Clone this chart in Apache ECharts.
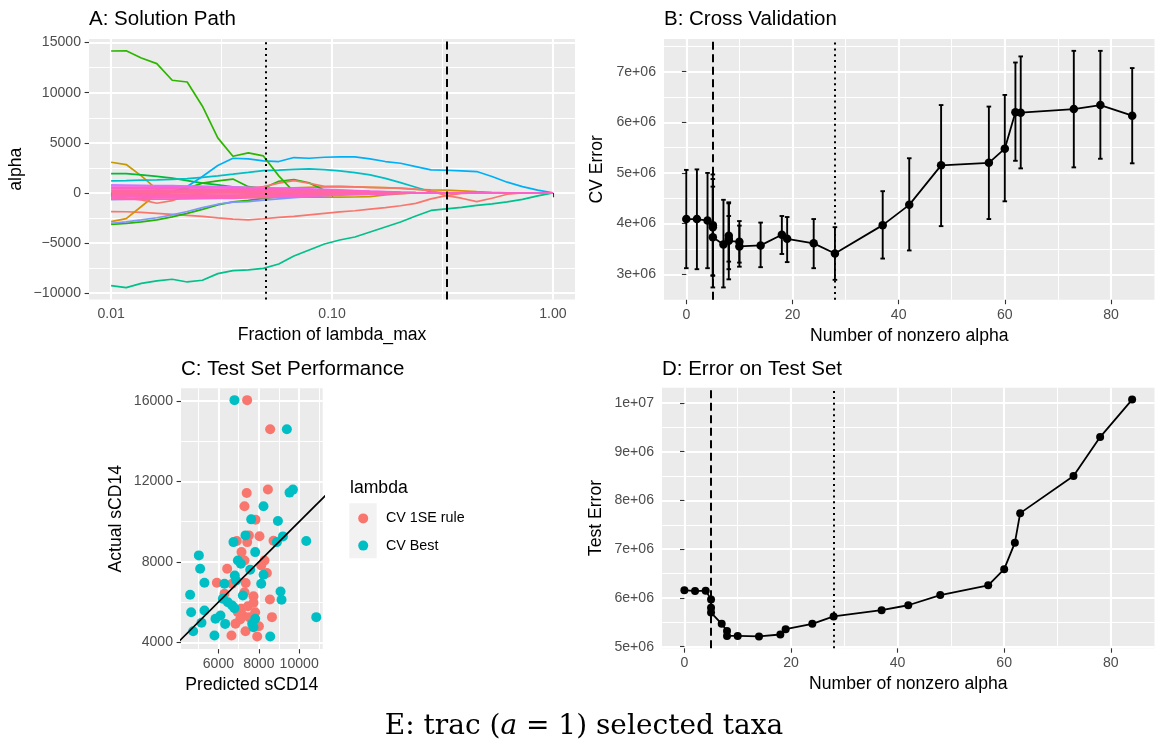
<!DOCTYPE html>
<html>
<head>
<meta charset="utf-8">
<script src="https://cdn.jsdelivr.net/npm/echarts@6/dist/echarts.min.js"></script>
<style>html,body{margin:0;padding:0;background:#ffffff}#chart{width:1155px;height:748px}</style>
</head>
<body>
<div id="chart"></div>
<script>
// ---------------- Panel A: solution path ----------------
const lambdaFrac = [0.0100, 0.0117, 0.0137, 0.0161, 0.0189, 0.0221, 0.0259, 0.0304, 0.0356, 0.0418,
  0.0489, 0.0574, 0.0672, 0.0788, 0.0924, 0.1083, 0.1269, 0.1487, 0.1743, 0.2043,
  0.2395, 0.2807, 0.3290, 0.3857, 0.4520, 0.5298, 0.6210, 0.7279, 0.8532, 1.0000];
const alphaGreenBig = [14160, 14180, 13470, 12900, 11240, 11070, 8650, 5490, 3660, 3990, 3690, 1700, 100, 0, 0, 0, 0, 0, 0, 0, 0, 0, 0, 0, 0, 0, 0, 0, 0, 0];
const alphaBlue = [-650, -620, -530, -370, 130, 630, 1630, 2730, 3460, 3400, 3200, 3130, 3530, 3460, 3560, 3600, 3600, 3400, 3130, 2960, 2630, 2300, 2260, 2200, 2130, 1630, 1070, 630, 270, 0];
const alphaCyan = [1200, 1230, 1270, 1300, 1350, 1420, 1550, 1700, 1870, 2050, 2230, 2280, 2350, 2400, 2330, 2200, 2030, 1800, 1450, 1020, 560, 100, 0, 0, 0, 0, 0, 0, 0, 0];
const alphaSeaGreen = [-9260, -9460, -9030, -8790, -8620, -8890, -8720, -8060, -7760, -7690, -7530, -7100, -6300, -5700, -5100, -4700, -4400, -3900, -3400, -2900, -2300, -1750, -1600, -1450, -1250, -1100, -900, -650, -300, 0];
const alphaSalmonLow = [-1860, -1880, -1950, -2050, -2150, -2250, -2350, -2500, -2620, -2700, -2580, -2450, -2350, -2200, -2050, -1900, -1780, -1620, -1470, -1280, -1050, -600, -280, -50, 0, 0, 0, 0, 0, 0];
const alphaSalmonDip = [-370, -530, -700, -1030, -770, -200, -30, 100, 250, 450, 630, 970, 1230, 960, 650, 650, 600, 550, 500, 470, 370, 200, -270, -530, -870, -530, -130, 0, 0, 0];
const alphaGoldHigh = [3060, 2830, 1700, 350, -250, -380, -420, -430, -430, -430, -430, -430, -420, -420, -420, -420, -410, -380, -200, -70, 0, 0, 0, 0, 0, 0, 0, 0, 0, 0];
const alphaGoldLow = [-2860, -2560, -1360, -100, 200, 300, 300, 300, 320, 350, 400, 450, 500, 550, 600, 620, 600, 560, 520, 450, 350, 300, 270, 200, 120, 50, 0, 0, 0, 0];
const alphaGreenHigh = [1930, 1930, 1800, 1650, 1470, 1230, 970, 800, 600, 500, 450, 400, 300, 200, 100, 0, 0, 0, 0, 0, 0, 0, 0, 0, 0, 0, 0, 0, 0, 0];
const alphaGreenLow = [-3150, -3050, -2900, -2700, -2400, -2050, -1650, -1200, -900, -750, -550, -400, -250, -150, -50, 0, 0, 0, 0, 0, 0, 0, 0, 0, 0, 0, 0, 0, 0, 0];
const alphaGreenBump = [0, 0, 0, 0, 150, 470, 970, 1200, 1380, 620, 450, 1160, 1330, 1000, 270, 0, 0, 0, 0, 0, 0, 0, 0, 0, 0, 0, 0, 0, 0, 0];
const alphaPeriwinkle = [-3030, -2900, -2700, -2480, -2200, -1860, -1470, -1130, -930, -870, -730, -600, -480, -380, -270, -170, -80, 0, 0, 0, 0, 0, 0, 0, 0, 0, 0, 0, 0, 0];
const alphaViolet = [800, 780, 760, 740, 720, 690, 660, 620, 580, 540, 480, 420, 360, 300, 230, 150, 80, 30, 0, 0, 0, 0, 0, 0, 0, 0, 0, 0, 0, 0];
const alphaBand1 = [700, 695, 690, 680, 665, 650, 630, 610, 585, 560, 530, 490, 450, 400, 350, 300, 240, 180, 130, 70, 30, 0, 0, 0, 0, 0, 0, 0, 0, 0];
const alphaBand2 = [560, 556, 552, 544, 532, 520, 504, 488, 468, 448, 424, 392, 360, 320, 280, 240, 192, 144, 104, 56, 24, 0, 0, 0, 0, 0, 0, 0, 0, 0];
const alphaBand3 = [420, 417, 414, 408, 399, 390, 378, 366, 351, 336, 318, 294, 270, 240, 210, 180, 144, 108, 78, 42, 18, 0, 0, 0, 0, 0, 0, 0, 0, 0];
const alphaBand4 = [280, 278, 276, 272, 266, 260, 252, 244, 234, 224, 212, 196, 180, 160, 140, 120, 96, 72, 52, 28, 12, 0, 0, 0, 0, 0, 0, 0, 0, 0];
const alphaBand5 = [140, 139, 138, 136, 133, 130, 126, 122, 117, 112, 106, 98, 90, 80, 70, 60, 48, 36, 26, 14, 6, 0, 0, 0, 0, 0, 0, 0, 0, 0];
const alphaBand6 = [0, 0, 0, 0, 0, 0, 0, 0, 0, 0, 0, 0, 0, 0, 0, 0, 0, 0, 0, 0, 0, 0, 0, 0, 0, 0, 0, 0, 0, 0];
const alphaBand7 = [-130, -129, -128, -126, -124, -120, -116, -112, -108, -101, -94, -86, -76, -66, -55, -44, -36, -28, -20, -10, 0, 0, 0, 0, 0, 0, 0, 0, 0, 0];
const alphaBand8 = [-260, -258, -256, -252, -248, -240, -232, -224, -216, -202, -188, -172, -152, -132, -110, -88, -72, -56, -40, -20, 0, 0, 0, 0, 0, 0, 0, 0, 0, 0];
const alphaBand9 = [-390, -387, -384, -378, -372, -360, -348, -336, -324, -303, -282, -258, -228, -198, -165, -132, -108, -84, -60, -30, 0, 0, 0, 0, 0, 0, 0, 0, 0, 0];
const alphaBand10 = [-520, -516, -512, -504, -496, -480, -464, -448, -432, -404, -376, -344, -304, -264, -220, -176, -144, -112, -80, -40, 0, 0, 0, 0, 0, 0, 0, 0, 0, 0];
const alphaBand11 = [-650, -645, -640, -630, -620, -600, -580, -560, -540, -505, -470, -430, -380, -330, -275, -220, -180, -140, -100, -50, 0, 0, 0, 0, 0, 0, 0, 0, 0, 0];
const fracRange = [0.00794, 1.259];
const fracTicks = [0.01, 0.1, 1];
const fracTickLabels = ['0.01', '0.10', '1.00'];
const fracMinorTicks = [0.0316, 0.316];
const alphaRange = [-10640, 15360];
const alphaTicks = [-10000, -5000, 0, 5000, 10000, 15000];
const alphaTickLabels = ['\u221210000', '\u22125000', '0', '5000', '10000', '15000'];
const alphaMinorTicks = [-7500, -2500, 2500, 7500, 12500];
const lambdaSelected = [0.0489, 0.329]; // CV best (dotted), CV 1SE rule (dashed)

// ---------------- Panel B: cross validation ----------------
const cvNonzero = [0, 2, 4, 5, 5, 5, 7, 8, 8, 8, 10, 10, 14, 18, 19, 24, 28, 37, 42, 48, 57, 60, 62, 63, 73, 78, 84];
const cvMean  = [4.09e6, 4.09e6, 4.06e6, 3.97e6, 3.93e6, 3.73e6, 3.59e6, 3.76e6, 3.70e6, 3.66e6, 3.64e6, 3.55e6, 3.57e6, 3.78e6, 3.70e6, 3.61e6, 3.41e6, 3.97e6, 4.37e6, 5.15e6, 5.20e6, 5.48e6, 6.20e6, 6.19e6, 6.26e6, 6.34e6, 6.13e6];
const cvLower = [3.12e6, 3.10e6, 3.12e6, 2.97e6, 2.98e6, 2.74e6, 2.74e6, 3.10e6, 3.25e6, 2.90e6, 3.23e6, 3.15e6, 3.14e6, 3.40e6, 3.24e6, 3.12e6, 2.89e6, 3.31e6, 3.47e6, 3.95e6, 4.09e6, 4.44e6, 5.24e6, 5.09e6, 5.11e6, 5.28e6, 5.19e6];
const cvUpper = [5.06e6, 5.07e6, 5.00e6, 4.97e6, 4.88e6, 4.73e6, 4.47e6, 4.42e6, 4.15e6, 4.40e6, 4.05e6, 3.96e6, 4.02e6, 4.15e6, 4.13e6, 4.09e6, 3.93e6, 4.64e6, 5.29e6, 6.34e6, 6.31e6, 6.54e6, 7.18e6, 7.30e6, 7.41e6, 7.41e6, 7.07e6];
const nonzeroRange = [-4.2, 88.2];
const nonzeroTicks = [0, 20, 40, 60, 80];
const nonzeroTickLabels = ['0', '20', '40', '60', '80'];
const nonzeroMinorTicks = [10, 30, 50, 70];
const cvRange = [2.496e6, 7.644e6];
const cvTicks = [3e6, 4e6, 5e6, 6e6, 7e6];
const cvTickLabels = ['3e+06', '4e+06', '5e+06', '6e+06', '7e+06'];
const cvMinorTicks = [3.5e6, 4.5e6, 5.5e6, 6.5e6, 7.5e6];
const nonzeroSelected = [28, 5]; // CV best (dotted), CV 1SE rule (dashed)

// ---------------- Panel C: test set performance ----------------
const lambdaLevels = ['CV 1SE rule', 'CV Best'];
const oneSEPoints = [[7421, 16050], [8562, 14604], [8450, 11600], [7400, 11430], [7290, 10766], [7835, 10103],
  [8034, 9280], [7507, 9320], [8728, 9050], [7424, 8985], [6909, 9036], [7141, 8488], [7290, 8074], [8282, 8074],
  [8118, 7825], [6431, 7660], [8400, 7450], [5921, 6959], [6680, 6909], [7350, 6950], [7290, 6493], [7736, 6290],
  [8550, 6130], [6298, 6414], [6962, 5497], [7126, 5664], [7458, 5797], [7736, 5965], [7820, 5497], [7210, 5333],
  [7520, 5250], [7076, 5133], [6843, 4918], [8004, 4800], [7340, 4550], [7920, 4285], [6645, 4335], [8650, 5250]];
const bestPoints = [[6793, 16050], [9389, 14604], [9522, 11449], [9690, 11598], [8232, 10766], [7622, 10118],
  [8946, 10033], [7340, 9320], [9194, 9270], [10350, 9036], [8896, 8985], [6744, 8985], [7820, 8488], [5028, 8323],
  [6962, 8074], [7108, 7906], [5092, 7660], [7572, 7610], [8232, 7360], [5306, 6959], [6298, 6909], [6878, 7075],
  [6810, 7325], [7210, 6330], [8118, 6910], [9075, 6528], [9125, 6115], [4596, 6364], [6218, 6165], [6466, 5995],
  [6680, 5830], [6794, 5697], [4646, 5497], [5306, 5580], [5852, 5167], [6100, 5333], [7820, 5167], [7672, 4918],
  [7736, 4750], [8564, 4285], [5802, 4335], [5159, 4968], [4747, 4550], [10846, 5250], [6331, 4915]];
const identityLine = [[0, 0], [20000, 20000]];
const predRange = [4144, 11165];
const predTicks = [6000, 8000, 10000];
const predTickLabels = ['6000', '8000', '10000'];
const predMinorTicks = [5000, 7000, 9000, 11000];
const actualRange = [3660, 16640];
const actualTicks = [4000, 8000, 12000, 16000];
const actualTickLabels = ['4000', '8000', '12000', '16000'];
const actualMinorTicks = [6000, 10000, 14000];

// ---------------- Panel D: error on test set ----------------
const testNonzero = [0, 2, 4, 5, 5, 5, 7, 8, 8, 10, 14, 18, 19, 24, 28, 37, 42, 48, 57, 60, 62, 63, 73, 78, 84];
const testError = [6.16e6, 6.14e6, 6.15e6, 5.97e6, 5.80e6, 5.70e6, 5.47e6, 5.32e6, 5.22e6, 5.22e6, 5.21e6, 5.25e6, 5.36e6, 5.47e6, 5.62e6, 5.75e6, 5.85e6, 6.06e6, 6.26e6, 6.59e6, 7.13e6, 7.74e6, 8.50e6, 9.30e6, 10.07e6];
const testRange = [4.967e6, 10.313e6];
const testTicks = [5e6, 6e6, 7e6, 8e6, 9e6, 1e7];
const testTickLabels = ['5e+06', '6e+06', '7e+06', '8e+06', '9e+06', '1e+07'];
const testMinorTicks = [5.5e6, 6.5e6, 7.5e6, 8.5e6, 9.5e6];

// ---------------- styling helpers ----------------
const SANS = '"Liberation Sans", Arial, Helvetica, sans-serif';
function labelFor(values, labels) {
  return function (v) {
    for (let k = 0; k < values.length; k++) {
      const t = values[k];
      if (t === v || Math.abs(t - v) <= 1e-6 * Math.abs(t)) return labels[k];
    }
    return '';
  };
}
function majorAxis(dim, grid, type, range, ticks, labels, name, gap) {
  return {
    type: type, gridIndex: grid, position: dim === 'x' ? 'bottom' : 'left',
    min: range[0], max: range[1], logBase: 10,
    name: name, nameLocation: 'middle', nameGap: gap,
    nameTextStyle: { color: '#000000', fontSize: 17.6, fontFamily: SANS },
    axisLine: { show: false },
    axisTick: { show: true, length: 4.4, lineStyle: { color: '#333333', width: 1.1 }, customValues: ticks },
    axisLabel: { show: true, color: '#4D4D4D', fontSize: 14.1, fontFamily: SANS, margin: 8,
      customValues: ticks, formatter: labelFor(ticks, labels) },
    splitLine: { show: true, lineStyle: { color: '#FFFFFF', width: 2.1 } },
    minorTick: { show: false }, minorSplitLine: { show: false }
  };
}
function minorAxis(dim, grid, type, range, ticks) {
  return {
    type: type, gridIndex: grid, position: dim === 'x' ? 'top' : 'right',
    min: range[0], max: range[1], logBase: 10,
    axisLine: { show: false },
    axisTick: { show: false, customValues: ticks },
    axisLabel: { show: false, customValues: ticks },
    splitLine: { show: true, lineStyle: { color: '#FFFFFF', width: 1.05 } }
  };
}
const panelBg = { show: true, backgroundColor: '#EBEBEB', borderWidth: 0, outerBoundsMode: 'none', containLabel: false };
function vlineData(values) {
  return [
    { xAxis: values[0], lineStyle: { type: [2, 3.8], width: 2, color: '#000000' } },
    { xAxis: values[1], lineStyle: { type: [8, 4.5], width: 2, color: '#000000' } }
  ];
}
function vlines(values) {
  return { silent: true, symbol: 'none', animation: false, label: { show: false }, emphasis: { disabled: true }, data: vlineData(values) };
}

// ---------------- series ----------------
const alphaPaths = [
  [alphaSeaGreen, '#00C08B'], [alphaSalmonLow, '#F8766D'], [alphaGoldHigh, '#C49A00'], [alphaGoldLow, '#D89000'],
  [alphaGreenHigh, '#00BA38'], [alphaGreenLow, '#24B400'], [alphaPeriwinkle, '#7F96FF'], [alphaCyan, '#00BFC4'],
  [alphaBlue, '#00B0F6'], [alphaGreenBump, '#1DB700'], [alphaSalmonDip, '#F8766D'], [alphaGreenBig, '#2DB600'],
  [alphaViolet, '#C77CFF'],
  [alphaBand1, '#E76BF3'], [alphaBand2, '#FD61D1'], [alphaBand3, '#FF62BC'], [alphaBand4, '#FF65AE'],
  [alphaBand5, '#FF67A4'], [alphaBand6, '#FF6A98'], [alphaBand7, '#FF67A4'], [alphaBand8, '#FF65AE'],
  [alphaBand9, '#FF62BC'], [alphaBand10, '#FF6A98'], [alphaBand11, '#FC61C9']
];
const series = [];
alphaPaths.forEach(function (p, k) {
  const s = {
    type: 'line', xAxisIndex: 0, yAxisIndex: 0, showSymbol: false, symbol: 'none', silent: true,
    data: lambdaFrac.map(function (f, i) { return [f, p[0][i]]; }),
    lineStyle: { color: p[1], width: 1.7 }, itemStyle: { color: p[1] }, z: 2
  };
  if (k === alphaPaths.length - 1) s.markLine = vlines(lambdaSelected);
  series.push(s);
});

series.push({
  type: 'custom', xAxisIndex: 2, yAxisIndex: 2, silent: true,
  data: cvNonzero.map(function (x, i) { return [x, cvLower[i], cvUpper[i]]; }),
  encode: { x: 0, y: [1, 2] },
  renderItem: function (params, api) {
    const x = api.value(0);
    const lo = api.coord([x, api.value(1)]);
    const hi = api.coord([x, api.value(2)]);
    const w = 2.3;
    const st = { stroke: '#000000', lineWidth: 1.9 };
    return { type: 'group', children: [
      { type: 'line', shape: { x1: lo[0], y1: lo[1], x2: hi[0], y2: hi[1] }, style: st },
      { type: 'line', shape: { x1: lo[0] - w, y1: lo[1], x2: lo[0] + w, y2: lo[1] }, style: st },
      { type: 'line', shape: { x1: hi[0] - w, y1: hi[1], x2: hi[0] + w, y2: hi[1] }, style: st }
    ] };
  }
});
series.push({
  type: 'line', xAxisIndex: 2, yAxisIndex: 2, silent: true, symbol: 'circle', symbolSize: 8.5, showSymbol: true,
  data: cvNonzero.map(function (x, i) { return [x, cvMean[i]]; }),
  lineStyle: { color: '#000000', width: 1.8 }, itemStyle: { color: '#000000' },
  markLine: vlines(nonzeroSelected)
});

series.push({
  type: 'scatter', name: lambdaLevels[0], xAxisIndex: 4, yAxisIndex: 4, silent: true, symbolSize: 10,
  data: oneSEPoints, itemStyle: { color: '#F8766D', opacity: 1 }
});
series.push({
  type: 'scatter', name: lambdaLevels[1], xAxisIndex: 4, yAxisIndex: 4, silent: true, symbolSize: 10,
  data: bestPoints, itemStyle: { color: '#00BFC4', opacity: 1 }
});
series.push({
  type: 'line', xAxisIndex: 4, yAxisIndex: 4, silent: true, showSymbol: false, symbol: 'none', clip: true,
  data: identityLine, lineStyle: { color: '#000000', width: 1.7 }, z: 3
});

series.push({
  type: 'line', xAxisIndex: 6, yAxisIndex: 6, silent: true, symbol: 'circle', symbolSize: 8, showSymbol: true,
  data: testNonzero.map(function (x, i) { return [x, testError[i]]; }),
  lineStyle: { color: '#000000', width: 1.8 }, itemStyle: { color: '#000000' },
  markLine: vlines(nonzeroSelected)
});

const titleStyle = { color: '#000000', fontSize: 20.5, fontWeight: 'normal', fontFamily: SANS };
const option = {
  animation: false,
  backgroundColor: '#FFFFFF',
  title: [
    { text: 'A: Solution Path', left: 89, top: 9, padding: 0, textStyle: titleStyle },
    { text: 'B: Cross Validation', left: 664, top: 9, padding: 0, textStyle: titleStyle },
    { text: 'C: Test Set Performance', left: 181, top: 359, padding: 0, textStyle: titleStyle },
    { text: 'D: Error on Test Set', left: 662, top: 359, padding: 0, textStyle: titleStyle }
  ],
  grid: [
    Object.assign({ left: 89, top: 39, width: 486, height: 260.5 }, panelBg),
    Object.assign({ left: 664, top: 39, width: 490.5, height: 260.8 }, panelBg),
    Object.assign({ left: 181, top: 388.3, width: 141.7, height: 260.8 }, panelBg),
    Object.assign({ left: 662, top: 387.7, width: 492.5, height: 260.6 }, panelBg)
  ],
  xAxis: [
    majorAxis('x', 0, 'log', fracRange, fracTicks, fracTickLabels, 'Fraction of lambda_max', 27),
    minorAxis('x', 0, 'log', fracRange, fracMinorTicks),
    majorAxis('x', 1, 'value', nonzeroRange, nonzeroTicks, nonzeroTickLabels, 'Number of nonzero alpha', 27),
    minorAxis('x', 1, 'value', nonzeroRange, nonzeroMinorTicks),
    majorAxis('x', 2, 'value', predRange, predTicks, predTickLabels, 'Predicted sCD14', 27),
    minorAxis('x', 2, 'value', predRange, predMinorTicks),
    majorAxis('x', 3, 'value', nonzeroRange, nonzeroTicks, nonzeroTickLabels, 'Number of nonzero alpha', 27),
    minorAxis('x', 3, 'value', nonzeroRange, nonzeroMinorTicks)
  ],
  yAxis: [
    majorAxis('y', 0, 'value', alphaRange, alphaTicks, alphaTickLabels, 'alpha', 64),
    minorAxis('y', 0, 'value', alphaRange, alphaMinorTicks),
    majorAxis('y', 1, 'value', cvRange, cvTicks, cvTickLabels, 'CV Error', 58),
    minorAxis('y', 1, 'value', cvRange, cvMinorTicks),
    majorAxis('y', 2, 'value', actualRange, actualTicks, actualTickLabels, 'Actual sCD14', 56),
    minorAxis('y', 2, 'value', actualRange, actualMinorTicks),
    majorAxis('y', 3, 'value', testRange, testTicks, testTickLabels, 'Test Error', 57),
    minorAxis('y', 3, 'value', testRange, testMinorTicks)
  ],
  graphic: [
    { type: 'text', x: 350, y: 488, silent: true,
      style: { text: 'lambda', fill: '#000000', fontSize: 17.6, fontFamily: SANS, align: 'left', verticalAlign: 'middle' } },
    { type: 'rect', x: 349.3, y: 503.3, silent: true, shape: { width: 27.4, height: 55 }, style: { fill: '#F2F2F2' } },
    { type: 'circle', x: 363.2, y: 518.4, silent: true, shape: { r: 5 }, style: { fill: '#F8766D' } },
    { type: 'circle', x: 363.2, y: 545.6, silent: true, shape: { r: 5 }, style: { fill: '#00BFC4' } },
    { type: 'text', x: 386, y: 518.4, silent: true,
      style: { text: lambdaLevels[0], fill: '#000000', fontSize: 14.3, fontFamily: SANS, align: 'left', verticalAlign: 'middle' } },
    { type: 'text', x: 386, y: 545.6, silent: true,
      style: { text: lambdaLevels[1], fill: '#000000', fontSize: 14.3, fontFamily: SANS, align: 'left', verticalAlign: 'middle' } },
    { type: 'text', x: 584, y: 727, silent: true,
      style: {
        text: '{r|E: trac (}{i|a}{r| = 1) selected taxa}',
        align: 'center', verticalAlign: 'middle',
        rich: {
          r: { fontFamily: '"DejaVu Serif", serif', fontSize: 28, fill: '#000000' },
          i: { fontFamily: '"DejaVu Serif", serif', fontSize: 28, fontStyle: 'italic', fill: '#000000' }
        }
      } }
  ],
  series: series
};

const chart = echarts.init(document.getElementById('chart'), null, { renderer: 'canvas', width: 1155, height: 748 });
chart.setOption(option);
</script>
</body>
</html>
